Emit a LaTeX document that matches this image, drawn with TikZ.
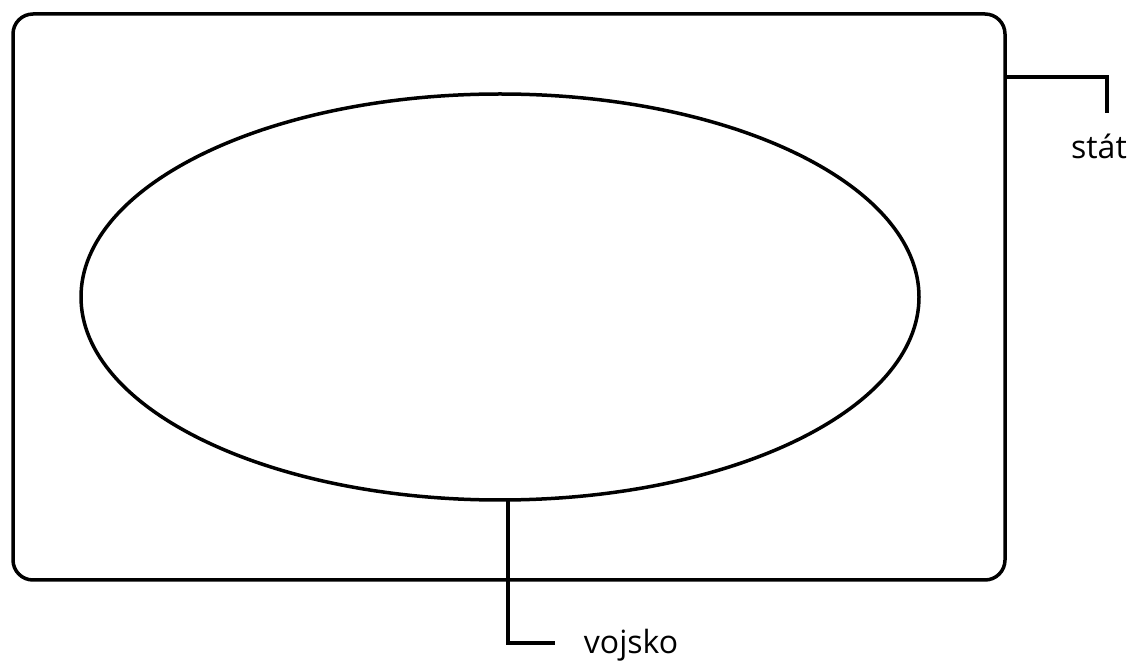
\documentclass[tikz,border=0pt]{standalone}
\usepackage{fontspec}
\setmainfont{Open Sans}
\usetikzlibrary{shapes.geometric}
\tikzset{
  frame/.style={draw, line width=1.75pt, rounded corners=10pt, inner sep=0pt, outer sep=0pt},
  oval/.style={ellipse, draw, line width=1.75pt, inner sep=0pt, outer sep=0pt},
  wire/.style={line width=1.75pt},
  tag/.style={font=\fontsize{16}{19}\selectfont, inner sep=0pt}
}
\begin{document}
\begin{tikzpicture}[x=0.5pt,y=-0.5pt]
        \useasboundingbox (0,0) rectangle (1136,662);
        \node[frame, minimum width=496pt, minimum height=283pt] (stat) at (509,297) {};
        \node[oval, minimum width=419pt, minimum height=203pt] (army) at (500,297) {};
        \node[tag] (statlabel) at (1099,146) {stát};
        \node[tag] (armylabel) at (631,645) {vojsko};
        
        % leader lines to the labels
        \draw[wire] ([yshift=-31.5pt]stat.north east) -- ++(102,0) -- ++(0,36);
        \draw[wire] ([xshift=4pt]army.south) -- ++(0,143) -- ++(47,0);
    \end{tikzpicture}
\end{document}
